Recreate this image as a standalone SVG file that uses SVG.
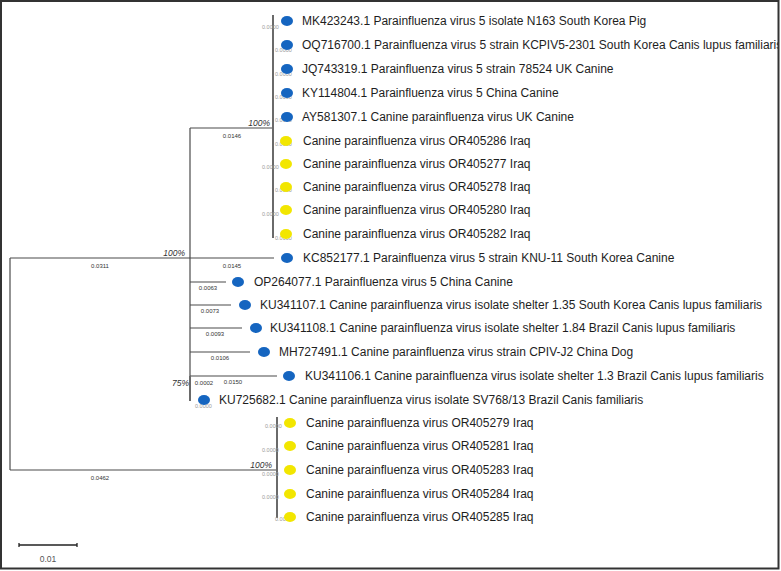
<svg xmlns="http://www.w3.org/2000/svg" width="781" height="571" viewBox="0 0 781 571">
<style>
.br{stroke:#4a4a4a;stroke-width:1.2;fill:none}
.vc{stroke:#6a6a6a;stroke-width:2;fill:none}
.lb{font-family:"Liberation Sans",Arial,sans-serif;font-size:12px;fill:#1e1e1e}
.bl{font-family:"Liberation Sans",Arial,sans-serif;font-size:6px;fill:#333}
.z{font-family:"Liberation Sans",Arial,sans-serif;font-size:5.5px;fill:#9a9a9a}
.bs{font-family:"Liberation Sans",Arial,sans-serif;font-size:8.5px;font-style:italic;fill:#333}
.b{fill:#1565c0}
.y{fill:#f2e600}
</style>
<rect x="0" y="0" width="781" height="571" fill="#fff"/>
<g id="connectors">
<line class="br" x1="10" y1="258" x2="10" y2="470"/>
<line class="br" x1="10" y1="258" x2="274" y2="258"/>
<line class="br" x1="10" y1="470" x2="277" y2="470"/>
<line class="br" x1="190" y1="128" x2="190" y2="401"/>
<line class="br" x1="190" y1="128" x2="273" y2="128"/>
<line class="vc" x1="273" y1="15" x2="273" y2="238"/>
<line class="br" x1="190" y1="282" x2="226" y2="282"/>
<line class="br" x1="190" y1="305" x2="231" y2="305"/>
<line class="br" x1="190" y1="328" x2="242" y2="328"/>
<line class="br" x1="190" y1="352" x2="250" y2="352"/>
<line class="br" x1="190" y1="376" x2="277" y2="376"/>
<line class="vc" x1="190" y1="376" x2="190" y2="401"/>
<line class="vc" x1="277" y1="417" x2="277" y2="518"/>
<text class="bl" x="100" y="268" text-anchor="middle">0.0311</text>
<text class="bl" x="232" y="268" text-anchor="middle">0.0145</text>
<text class="bl" x="232" y="138" text-anchor="middle">0.0146</text>
<text class="bl" x="208" y="290" text-anchor="middle">0.0063</text>
<text class="bl" x="210" y="313" text-anchor="middle">0.0073</text>
<text class="bl" x="215" y="336" text-anchor="middle">0.0093</text>
<text class="bl" x="220" y="360" text-anchor="middle">0.0106</text>
<text class="bl" x="233" y="384" text-anchor="middle">0.0150</text>
<text class="bl" x="100" y="480" text-anchor="middle">0.0462</text>
<text class="bl" x="204" y="385" text-anchor="middle">0.0002</text>
<text class="bs" x="270" y="126" text-anchor="end">100%</text>
<text class="bs" x="185" y="256" text-anchor="end">100%</text>
<text class="bs" x="272" y="468" text-anchor="end">100%</text>
<text class="bs" x="189" y="386" text-anchor="end">75%</text>
</g>
<g id="zeros">
<text class="z" x="262" y="29">0.0000</text>
<text class="z" x="275" y="52">0.0000</text>
<text class="z" x="275" y="76">0.0000</text>
<text class="z" x="275" y="99">0.0000</text>
<text class="z" x="275" y="122">0.0000</text>
<text class="z" x="275" y="146">0.0000</text>
<text class="z" x="262" y="169">0.0000</text>
<text class="z" x="275" y="192">0.0000</text>
<text class="z" x="262" y="216">0.0000</text>
<text class="z" x="275" y="240">0.0000</text>
<text class="z" x="195" y="408">0.0000</text>
<text class="z" x="265" y="428">0.0000</text>
<text class="z" x="262" y="452">0.0000</text>
<text class="z" x="262" y="476">0.0000</text>
<text class="z" x="262" y="499">0.0000</text>
<text class="z" x="275" y="521">0.0000</text>
</g>
<g id="n1"><ellipse class="b" cx="287" cy="21" rx="6" ry="5"/><text class="lb" x="302" y="25">MK423243.1 Parainfluenza virus 5 isolate N163 South Korea Pig</text></g>
<g id="n2"><ellipse class="b" cx="287" cy="45" rx="6" ry="5"/><text class="lb" x="302" y="49">OQ716700.1 Parainfluenza virus 5 strain KCPIV5-2301 South Korea Canis lupus familiaris</text></g>
<g id="n3"><ellipse class="b" cx="287" cy="69" rx="6" ry="5"/><text class="lb" x="302" y="73">JQ743319.1 Parainfluenza virus 5 strain 78524 UK Canine</text></g>
<g id="n4"><ellipse class="b" cx="287" cy="93" rx="6" ry="5"/><text class="lb" x="302" y="97">KY114804.1 Parainfluenza virus 5 China Canine</text></g>
<g id="n5"><ellipse class="b" cx="287" cy="117" rx="6" ry="5"/><text class="lb" x="302" y="121">AY581307.1 Canine parainfluenza virus UK Canine</text></g>
<g id="n6"><ellipse class="y" cx="286" cy="141" rx="6" ry="5"/><text class="lb" x="303" y="145">Canine parainfluenza virus OR405286 Iraq</text></g>
<g id="n7"><ellipse class="y" cx="286" cy="164" rx="6" ry="5"/><text class="lb" x="303" y="168">Canine parainfluenza virus OR405277 Iraq</text></g>
<g id="n8"><ellipse class="y" cx="286" cy="187" rx="6" ry="5"/><text class="lb" x="303" y="191">Canine parainfluenza virus OR405278 Iraq</text></g>
<g id="n9"><ellipse class="y" cx="286" cy="210" rx="6" ry="5"/><text class="lb" x="303" y="214">Canine parainfluenza virus OR405280 Iraq</text></g>
<g id="n10"><ellipse class="y" cx="286" cy="234" rx="6" ry="5"/><text class="lb" x="303" y="238">Canine parainfluenza virus OR405282 Iraq</text></g>
<g id="n11"><ellipse class="b" cx="287" cy="258" rx="6" ry="5"/><text class="lb" x="303" y="262">KC852177.1 Parainfluenza virus 5 strain KNU-11 South Korea Canine</text></g>
<g id="n12"><ellipse class="b" cx="238" cy="282" rx="6" ry="5"/><text class="lb" x="254" y="286">OP264077.1 Parainfluenza virus 5 China Canine</text></g>
<g id="n13"><ellipse class="b" cx="245" cy="305" rx="6" ry="5"/><text class="lb" x="260" y="309">KU341107.1 Canine parainfluenza virus isolate shelter 1.35 South Korea Canis lupus familiaris</text></g>
<g id="n14"><ellipse class="b" cx="256" cy="328" rx="6" ry="5"/><text class="lb" x="270" y="332">KU341108.1 Canine parainfluenza virus isolate shelter 1.84 Brazil Canis lupus familiaris</text></g>
<g id="n15"><ellipse class="b" cx="264" cy="352" rx="6" ry="5"/><text class="lb" x="279" y="356">MH727491.1 Canine parainfluenza virus strain CPIV-J2 China Dog</text></g>
<g id="n16"><ellipse class="b" cx="289" cy="376" rx="6" ry="5"/><text class="lb" x="305" y="380">KU341106.1 Canine parainfluenza virus isolate shelter 1.3 Brazil Canis lupus familiaris</text></g>
<g id="n17"><ellipse class="b" cx="204" cy="400" rx="6" ry="5"/><text class="lb" x="219" y="404">KU725682.1 Canine parainfluenza virus isolate SV768/13 Brazil Canis familiaris</text></g>
<g id="n18"><ellipse class="y" cx="290" cy="423" rx="6" ry="5"/><text class="lb" x="306" y="427">Canine parainfluenza virus OR405279 Iraq</text></g>
<g id="n19"><ellipse class="y" cx="290" cy="446" rx="6" ry="5"/><text class="lb" x="306" y="450">Canine parainfluenza virus OR405281 Iraq</text></g>
<g id="n20"><ellipse class="y" cx="290" cy="470" rx="6" ry="5"/><text class="lb" x="306" y="474">Canine parainfluenza virus OR405283 Iraq</text></g>
<g id="n21"><ellipse class="y" cx="290" cy="494" rx="6" ry="5"/><text class="lb" x="306" y="498">Canine parainfluenza virus OR405284 Iraq</text></g>
<g id="n22"><ellipse class="y" cx="290" cy="517" rx="6" ry="5"/><text class="lb" x="306" y="521">Canine parainfluenza virus OR405285 Iraq</text></g>
<g id="scale">
<line x1="19" y1="545" x2="77" y2="545" stroke="#222" stroke-width="1.3"/>
<line x1="19" y1="543" x2="19" y2="547" stroke="#222" stroke-width="1.3"/>
<line x1="77" y1="543" x2="77" y2="547" stroke="#222" stroke-width="1.3"/>
<text x="48" y="562" text-anchor="middle" font-family="Liberation Sans, Arial, sans-serif" font-size="8.5" fill="#555">0.01</text>
</g>
<rect x="779" y="0" width="2" height="571" fill="#fff"/>
<rect x="0" y="570" width="781" height="1" fill="#fff"/>
<rect x="1" y="1" width="777.5" height="567.5" fill="none" stroke="#333" stroke-width="2"/>
</svg>
